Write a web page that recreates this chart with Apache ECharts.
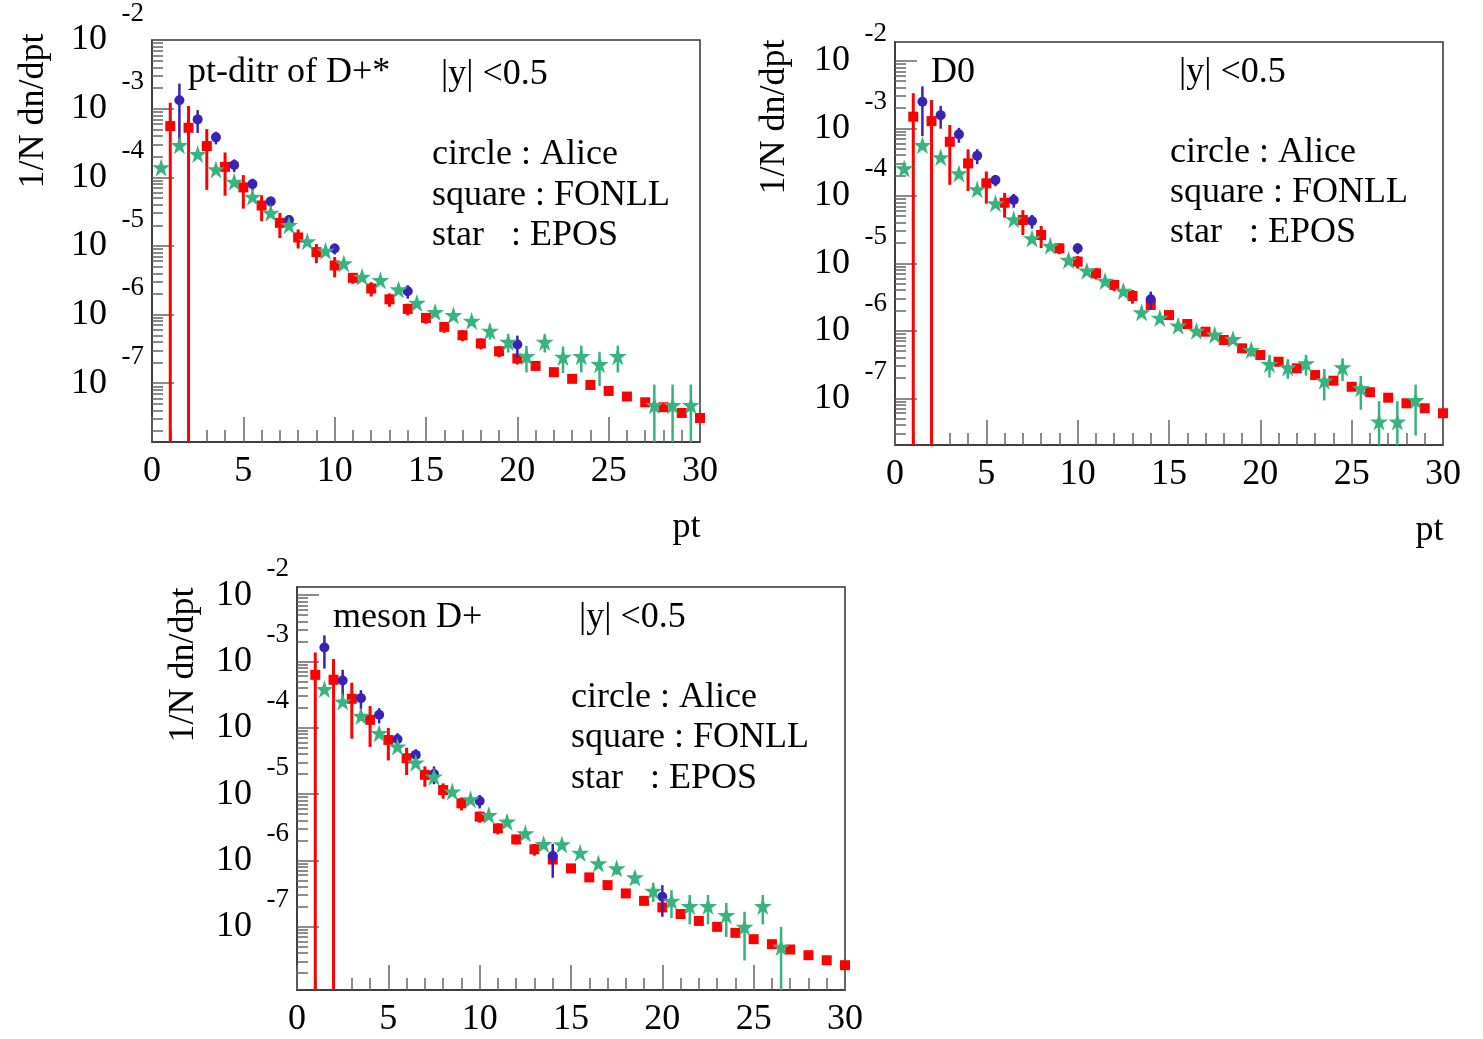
<!DOCTYPE html>
<html><head><meta charset="utf-8">
<script src="https://cdn.jsdelivr.net/npm/echarts@6/dist/echarts.min.js"></script>
<style>html,body{margin:0;padding:0;background:#fff}#c{width:1483px;height:1039px}</style>
</head><body><div id="c"></div>
<script>
const FONT = '"Liberation Serif","Times New Roman",serif';

// ---------- Panel 1 : pt-ditr of D+* ----------
const p1FonllX = [1,2,3,4,5,6,7,8,9,10,11,12,13,14,15,16,17,18,19,20,21,22,23,24,25,26,27,28,29,30];
const p1FonllY = [5.57e-4,5.27e-4,2.85e-4,1.42e-4,7.13e-5,3.89e-5,2.17e-5,1.33e-5,8.13e-6,5.2e-6,3.43e-6,2.4e-6,1.67e-6,1.21e-6,8.95e-7,6.62e-7,5.0e-7,3.8e-7,2.92e-7,2.29e-7,1.79e-7,1.45e-7,1.16e-7,9.44e-8,7.73e-8,6.4e-8,5.28e-8,4.47e-8,3.69e-8,3.12e-8];
const p1FonllRelErr = [1.19,1.07,0.77,0.62,0.51,0.41,0.40,0.31,0.31,0.33,0.18,0.235,0.22,0.195,0.18,0.18,0.18,0.18,0.18,0.18,0.1,0.1,0.08,0.08,0.08,0.08,0.08,0.08,0.08,0.08];
const p1AliceX = [1.5,2.5,3.5,4.5,5.5,6.5,7.5,10,14,20];
const p1AliceY = [1.33e-3,6.98e-4,3.82e-4,1.51e-4,7.96e-5,4.46e-5,2.38e-5,9.18e-6,2.19e-6,3.66e-7];
const p1AliceRelErr = [0.74,0.365,0.21,0.21,0.2,0.17,0.18,0.18,0.22,0.35];
const p1EposX = [0.5,1.5,2.5,3.5,4.5,5.5,6.5,7.5,8.5,9.5,10.5,11.5,12.5,13.5,14.5,15.5,16.5,17.5,18.5,19.5,20.5,21.5,22.5,23.5,24.5,25.5,27.5,28.5,29.5];
const p1EposY = [1.39e-4,2.94e-4,2.18e-4,1.3e-4,8.6e-5,5.2e-5,3.04e-5,2.01e-5,1.17e-5,8.5e-6,5.56e-6,3.55e-6,3.17e-6,2.32e-6,1.48e-6,1.09e-6,9.8e-7,8.1e-7,5.78e-7,4.0e-7,2.48e-7,4.0e-7,2.42e-7,2.48e-7,1.89e-7,2.48e-7,4.78e-8,4.78e-8,4.78e-8];
const p1EposRelErr = [0.05,0.05,0.05,0.05,0.05,0.05,0.05,0.05,0.05,0.05,0.05,0.05,0.05,0.05,0.1,0.1,0.12,0.15,0.25,0.3,0.42,0.3,0.42,0.42,0.52,0.42,1.0,1.0,1.0];

// ---------- Panel 2 : D0 ----------
const p2FonllX = [1,2,3,4,5,6,7,8,9,10,11,12,13,14,15,16,17,18,19,20,21,22,23,24,25,26,27,28,29,30];
const p2FonllY = [1.49e-3,1.28e-3,6.33e-4,3.03e-4,1.53e-4,7.9e-5,4.38e-5,2.63e-5,1.67e-5,1.06e-5,7.11e-6,4.77e-6,3.28e-6,2.41e-6,1.71e-6,1.26e-6,9.7e-7,7.3e-7,5.5e-7,4.38e-7,3.48e-7,2.78e-7,2.21e-7,1.82e-7,1.48e-7,1.23e-7,1.02e-7,8.43e-8,7.11e-8,6.0e-8];
const p2FonllRelErr = [1.22,1.05,0.77,0.61,0.5,0.4,0.4,0.36,0.18,0.21,0.19,0.19,0.23,0.15,0.12,0.1,0.1,0.1,0.08,0.08,0.08,0.08,0.08,0.08,0.08,0.08,0.08,0.08,0.08,0.08];
const p2AliceX = [1.5,2.5,3.5,4.5,5.5,6.5,7.5,10,14];
const p2AliceY = [2.48e-3,1.57e-3,8.15e-4,3.93e-4,1.71e-4,8.66e-5,4.24e-5,1.67e-5,2.93e-6];
const p2AliceRelErr = [0.69,0.37,0.25,0.25,0.19,0.23,0.23,0.18,0.3];
const p2EposX = [0.5,1.5,2.5,3.5,4.5,5.5,6.5,7.5,8.5,9.5,10.5,11.5,12.5,13.5,14.5,15.5,16.5,17.5,18.5,19.5,20.5,21.5,22.5,23.5,24.5,25.5,26.5,27.5,28.5];
const p2EposY = [2.55e-4,5.66e-4,3.72e-4,2.15e-4,1.25e-4,7.74e-5,4.49e-5,2.34e-5,1.82e-5,1.12e-5,7.77e-6,5.47e-6,3.89e-6,1.88e-6,1.55e-6,1.19e-6,1.0e-6,8.75e-7,7.55e-7,5.18e-7,3.21e-7,2.86e-7,3.28e-7,1.82e-7,2.86e-7,1.41e-7,4.52e-8,4.52e-8,9.37e-8];
const p2EposRelErr = [0.05,0.05,0.05,0.05,0.05,0.05,0.05,0.05,0.05,0.05,0.05,0.05,0.05,0.05,0.05,0.1,0.1,0.12,0.15,0.2,0.37,0.32,0.34,0.49,0.37,0.52,1.0,1.0,0.7];

// ---------- Panel 3 : meson D+ ----------
const p3FonllX = [1,2,3,4,5,6,7,8,9,10,11,12,13,14,15,16,17,18,19,20,21,22,23,24,25,26,27,28,29,30];
const p3FonllY = [6.29e-4,5.3e-4,2.74e-4,1.32e-4,6.56e-5,3.47e-5,1.95e-5,1.15e-5,7.26e-6,4.56e-6,3.04e-6,2.07e-6,1.47e-6,1.03e-6,7.57e-7,5.53e-7,4.23e-7,3.17e-7,2.45e-7,1.95e-7,1.55e-7,1.22e-7,9.93e-8,8.06e-8,6.47e-8,5.44e-8,4.52e-8,3.71e-8,3.11e-8,2.62e-8];
const p3FonllRelErr = [1.17,1.05,0.75,0.61,0.51,0.44,0.34,0.26,0.22,0.19,0.19,0.16,0.2,0.15,0.12,0.12,0.12,0.1,0.1,0.1,0.08,0.08,0.08,0.08,0.08,0.08,0.08,0.08,0.08,0.08];
const p3AliceX = [1.5,2.5,3.5,4.5,5.5,6.5,7.5,10,14,20];
const p3AliceY = [1.63e-3,5.17e-4,2.8e-4,1.57e-4,6.73e-5,3.9e-5,2.01e-5,7.87e-6,1.16e-6,2.82e-7];
const p3AliceRelErr = [0.52,0.45,0.32,0.26,0.23,0.22,0.3,0.23,0.53,0.5];
const p3EposX = [1.5,2.5,3.5,4.5,5.5,6.5,7.5,8.5,9.5,10.5,11.5,12.5,13.5,14.5,15.5,16.5,17.5,18.5,19.5,20.5,21.5,22.5,23.5,24.5,25.5,26.5];
const p3EposY = [3.83e-4,2.49e-4,1.51e-4,8.28e-5,5.2e-5,2.98e-5,1.83e-5,1.09e-5,8.34e-6,4.83e-6,3.83e-6,2.56e-6,1.76e-6,1.74e-6,1.3e-6,9.0e-7,7.57e-7,5.53e-7,3.47e-7,2.45e-7,2.04e-7,2.04e-7,1.49e-7,9.93e-8,2.04e-7,4.95e-8];
const p3EposRelErr = [0.05,0.05,0.05,0.05,0.05,0.05,0.05,0.05,0.05,0.05,0.05,0.05,0.05,0.05,0.1,0.15,0.2,0.2,0.32,0.45,0.47,0.47,0.53,0.69,0.47,1.0];

// ---------- Axis ticks & texts ----------
const xTickLabels = ['0','5','10','15','20','25','30'];
const yMajorTicks = [1e-8,1e-7,1e-6,1e-5,1e-4,1e-3,1e-2];
const yMinorMultipliers = [2,3,4,5,6,7,8,9];
const yAxisTitle = '1/N dn/dpt';
const xAxisTitle = 'pt';
const panelTitles = ['pt-ditr of D+*', 'D0', 'meson D+'];
const rapidityText = '|y| <0.5';
const legendLines = ['circle : Alice', 'square : FONLL', 'star   : EPOS'];

const panels = [
  {fx:p1FonllX, fy:p1FonllY, fe:p1FonllRelErr, ax:p1AliceX, ay:p1AliceY, ae:p1AliceRelErr, ex:p1EposX, ey:p1EposY, ee:p1EposRelErr},
  {fx:p2FonllX, fy:p2FonllY, fe:p2FonllRelErr, ax:p2AliceX, ay:p2AliceY, ae:p2AliceRelErr, ex:p2EposX, ey:p2EposY, ee:p2EposRelErr},
  {fx:p3FonllX, fy:p3FonllY, fe:p3FonllRelErr, ax:p3AliceX, ay:p3AliceY, ae:p3AliceRelErr, ex:p3EposX, ey:p3EposY, ee:p3EposRelErr}
];

// layout (positions / ranges)
const layouts = [
  {left:152, top:40, width:548, height:402, yMin:1.393e-8, yMax:1.001e-2, nameGap:100, namePad:260, pt:true,
   title:[188,73], rap:[441,75], leg:[432,155,196,236]},
  {left:895, top:42, width:548, height:403, yMin:2.03e-8, yMax:1.905e-2, nameGap:102, namePad:253, pt:true,
   title:[931,73], rap:[1179,73], leg:[1170,153,193,233]},
  {left:297, top:587, width:548, height:403, yMin:1.107e-8, yMax:1.33e-2, nameGap:95, namePad:247, pt:false,
   title:[333,618], rap:[579,618], leg:[571,698,738,779]}
];

const RED = '#ff0000', BLUE = '#3a22b4', GREEN = '#36b37e';
const STAR = 'path://M50,0 L61.2,34.5 L97.6,34.5 L68.2,55.9 L79.4,90.5 L50,69.1 L20.6,90.5 L31.8,55.9 L2.4,34.5 L38.8,34.5 Z';
const TXT = 36;

function minorTicks(lo, hi) {
  const out = [];
  for (let d = -10; d <= 0; d++) {
    for (const m of yMinorMultipliers) {
      const v = m * Math.pow(10, d);
      if (v > lo && v < hi) out.push(v);
    }
  }
  return out;
}

function errRender(color, width) {
  return function (params, api) {
    const x = api.value(0), y = api.value(1), e = api.value(2);
    const cs = params.coordSys;
    const bottom = cs.y + cs.height, top = cs.y;
    const hi = api.coord([x, y + e]);
    let lo;
    if (y - e > 0) lo = api.coord([x, y - e]); else lo = [hi[0], bottom];
    let y1 = Math.max(hi[1], top), y2 = Math.min(lo[1], bottom);
    if (!isFinite(y2)) y2 = bottom;
    return {type:'line', shape:{x1:hi[0], y1:y1, x2:hi[0], y2:y2},
            style:{stroke:color, lineWidth:width}, silent:true};
  };
}

const grids = [], xAxes = [], yAxes = [], series = [], graphics = [];
layouts.forEach((L, i) => {
  grids.push({left:L.left, top:L.top, width:L.width, height:L.height, show:true,
              borderColor:'#333', borderWidth:1.5, backgroundColor:'transparent', containLabel:false});
  xAxes.push({
    gridIndex:i, type:'value', min:0, max:30, interval:5,
    axisLine:{show:true, onZero:false, lineStyle:{color:'#333', width:1.5}},
    axisTick:{show:true, inside:true, length:25, lineStyle:{color:'#666', width:1.5}},
    minorTick:{show:true, splitNumber:5, length:12, lineStyle:{color:'#666', width:1.5}},
    axisLabel:{fontFamily:FONT, fontSize:TXT, color:'#000', margin:12,
               formatter: v => xTickLabels[Math.round(v/5)] ?? ''},
    splitLine:{show:false}, minorSplitLine:{show:false},
    name: L.pt ? xAxisTitle : '', nameLocation:'middle', nameGap:68, nameMoveOverlap:false,
    nameTextStyle:{fontFamily:FONT, fontSize:TXT, color:'#000', padding:[0,0,0,521]}
  });
  const majors = yMajorTicks.filter(v => v >= L.yMin && v <= L.yMax);
  yAxes.push({
    gridIndex:i, type:'log', logBase:10, min:L.yMin, max:L.yMax, position:'left',
    axisLine:{show:true, lineStyle:{color:'#333', width:1.5}},
    axisTick:{show:true, inside:true, length:22, customValues:majors, lineStyle:{color:'#666', width:1.5}},
    axisLabel:{
      customValues:majors, hideOverlap:false, align:'right', margin:8, padding:[0,0,26,0],
      formatter: v => '{e|' + Math.round(Math.log10(v)) + '}\n{b|10}',
      rich:{
        e:{fontFamily:FONT, fontSize:27, lineHeight:26, color:'#000'},
        b:{fontFamily:FONT, fontSize:TXT, lineHeight:27, color:'#000', padding:[0,37,0,0]}
      }
    },
    splitLine:{show:false}, minorTick:{show:false},
    name:yAxisTitle, nameLocation:'middle', nameRotate:90, nameGap:L.nameGap, nameMoveOverlap:false,
    nameTextStyle:{fontFamily:FONT, fontSize:TXT, color:'#000', padding:[0,0,0,L.namePad]}
  });
  yAxes.push({
    gridIndex:i, type:'log', logBase:10, min:L.yMin, max:L.yMax, position:'left', offset:0,
    axisLine:{show:false},
    axisTick:{show:true, inside:true, length:11, customValues:minorTicks(L.yMin, L.yMax), lineStyle:{color:'#666', width:1.5}},
    axisLabel:{show:false}, splitLine:{show:false}
  });
  const P = panels[i];
  const yi = 2*i;
  const mk = (xs, ys, es) => xs.map((x, k) => [x, ys[k], es[k]*ys[k]]);
  const pts = (xs, ys) => xs.map((x, k) => [x, ys[k]]);
  series.push({type:'custom', xAxisIndex:i, yAxisIndex:yi, renderItem:errRender(RED, 3),
               data:mk(P.fx, P.fy, P.fe), encode:{x:0, y:1}, silent:true, z:2});
  series.push({type:'scatter', xAxisIndex:i, yAxisIndex:yi, symbol:'rect', symbolSize:10,
               itemStyle:{color:RED, opacity:1}, data:pts(P.fx, P.fy), silent:true, z:3});
  series.push({type:'custom', xAxisIndex:i, yAxisIndex:yi, renderItem:errRender(BLUE, 2.5),
               data:mk(P.ax, P.ay, P.ae), encode:{x:0, y:1}, silent:true, z:4});
  series.push({type:'scatter', xAxisIndex:i, yAxisIndex:yi, symbol:'circle', symbolSize:10,
               itemStyle:{color:BLUE, opacity:1}, data:pts(P.ax, P.ay), silent:true, z:5});
  series.push({type:'custom', xAxisIndex:i, yAxisIndex:yi, renderItem:errRender(GREEN, 2.5),
               data:mk(P.ex, P.ey, P.ee), encode:{x:0, y:1}, silent:true, z:6});
  series.push({type:'scatter', xAxisIndex:i, yAxisIndex:yi, symbol:STAR, symbolSize:18,
               itemStyle:{color:GREEN, opacity:1}, data:pts(P.ex, P.ey), silent:true, z:7});

  const txt = (t, x, y) => ({type:'text', x:x, y:y, z:20, silent:true,
      style:{text:t, fontFamily:FONT, fontSize:TXT, fill:'#000', align:'left', verticalAlign:'middle'}});
  graphics.push(txt(panelTitles[i], L.title[0], L.title[1]));
  graphics.push(txt(rapidityText, L.rap[0], L.rap[1]));
  legendLines.forEach((t, k) => graphics.push(txt(t, L.leg[0], L.leg[k+1])));
});

const chart = echarts.init(document.getElementById('c'), null, {renderer:'canvas', width:1483, height:1039});
chart.setOption({
  animation:false,
  backgroundColor:'#ffffff',
  grid:grids, xAxis:xAxes, yAxis:yAxes, series:series, graphic:graphics
});
</script>
</body></html>
